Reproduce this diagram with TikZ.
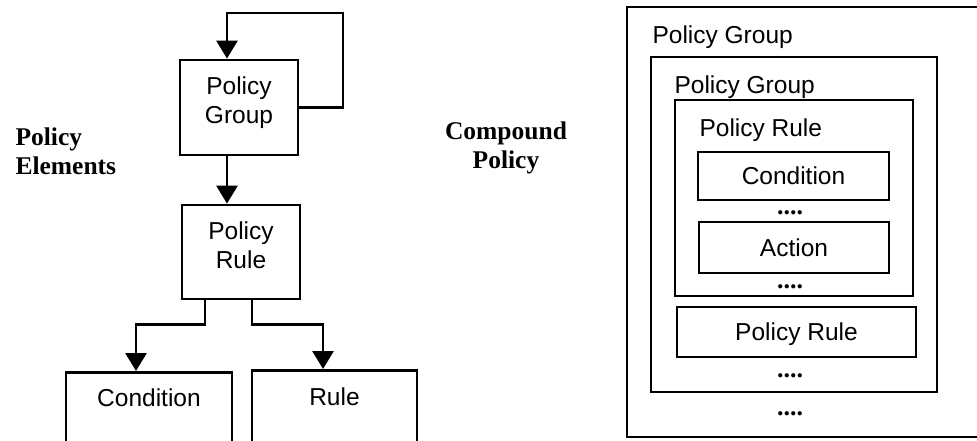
\documentclass[tikz,border=0pt]{standalone}
\usepackage{fontspec}
\setmainfont{Liberation Sans}
\newfontfamily\headfont{Liberation Serif}
\usetikzlibrary{arrows.meta,calc}

\tikzset{
  boxtext/.style={font=\fontsize{24.5}{29}\selectfont},
  headtext/.style={font=\headfont\bfseries\fontsize{25.5}{29.5}\selectfont},
  elembox/.style={draw, line width=2.8pt, inner sep=0pt, boxtext, align=center},
  frame/.style={draw, line width=2.8pt, inner sep=0pt},
  link/.style={line width=2.8pt, -{Triangle[width=21pt,length=18pt]}},
  moredots/.style={font=\headfont\bfseries\fontsize{26}{26}\selectfont, anchor=base},
}

\begin{document}
\begin{tikzpicture}[x=1pt,y=-1pt]
\clip (0,0) rectangle (977,440);
\fill[white] (0,0) rectangle (977,440);

% ---- hierarchy of policy elements ----
\node[headtext, anchor=west, align=left] (elemhead) at (12,151.5) {Policy\\Elements};

\node[elembox, minimum width=118pt, minimum height=95pt, text depth=14pt]
  (grp) at (239,107.5) {Policy\\Group};
\node[elembox, minimum width=118pt, minimum height=94pt, text depth=14pt]
  (rule) at (241,252) {Policy\\Rule};

% leaf boxes run past the lower edge
\node[elembox, anchor=north, minimum width=166pt, text height=17pt, text depth=70pt, inner ysep=17pt]
  (cond) at (149,371) {Condition};
\node[elembox, anchor=north, minimum width=165pt, text height=17pt, text depth=70pt, inner ysep=18pt]
  (leaf) at (334.5,369) {Rule};

% self reference of a group
\draw[link] (grp.east) -- (343,107.5) |- (227,13) -- ([xshift=-12pt]grp.north);
% group contains rules
\draw[link] ([xshift=-12pt]grp.south) -- ([xshift=-12pt]grp.south |- rule.north);
% rule refers to conditions and actions
\draw[link] ([xshift=-36pt]rule.south) -- ++(0,24) -| ([xshift=-13pt]cond.north);
\draw[link] ([xshift=11pt]rule.south) -- ++(0,24) -| ([xshift=-11.5pt]leaf.north);

% ---- nesting of a compound policy ----
\node[headtext, align=center] (comphead) at (506,148) {Compound\\Policy};

\node[frame, minimum width=370pt, minimum height=430pt] (outer) at (812,222) {};
\node[boxtext, anchor=base west] (outerlbl) at (649,43) {Policy Group};

\node[frame, minimum width=286pt, minimum height=335pt] (inner) at (794,224.5) {};
\node[boxtext, anchor=base west] (innerlbl) at (671,93) {Policy Group};

\node[frame, minimum width=238pt, minimum height=196pt] (prule) at (794,198) {};
\node[boxtext, anchor=base west] (prulelbl) at (696,136) {Policy Rule};

\node[frame, boxtext, minimum width=191pt, minimum height=48pt] (cnd) at (793.5,176) {Condition};
\node[moredots] (dotsa) at (790,214) {....};
\node[frame, boxtext, minimum width=190pt, minimum height=51pt, text depth=0pt] (act) at (794,247.5) {Action};
\node[moredots] (dotsb) at (790,288) {....};

\node[frame, boxtext, minimum width=239pt, minimum height=50pt, text depth=0pt] (prule2) at (796.5,332) {Policy Rule};
\node[moredots] (dotsc) at (790,377) {....};
\node[moredots] (dotsd) at (790,415) {....};
\end{tikzpicture}
\end{document}
